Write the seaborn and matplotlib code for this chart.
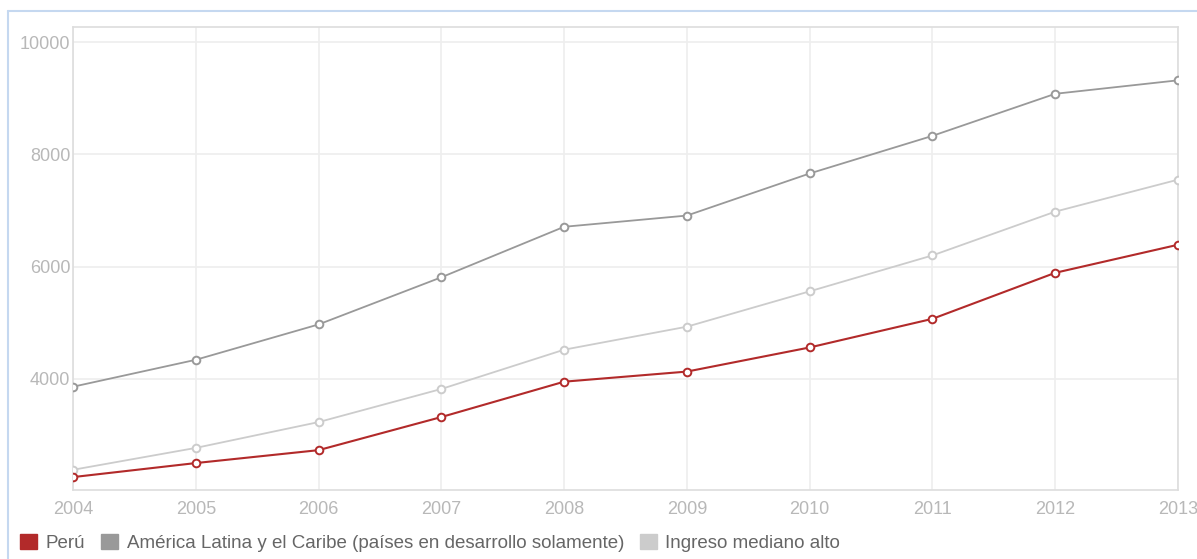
import matplotlib
matplotlib.use("Agg")
import matplotlib.pyplot as plt
from matplotlib.lines import Line2D
from matplotlib.patches import Patch
import pandas as pd
import seaborn as sns

# GDP per capita series, 2004-2013
years = [2004, 2005, 2006, 2007, 2008, 2009, 2010, 2011, 2012, 2013]
peru = [2250, 2500, 2730, 3320, 3950, 4130, 4560, 5070, 5890, 6390]
america_latina = [3860, 4340, 4970, 5810, 6710, 6910, 7660, 8330, 9080, 9320]
ingreso_mediano_alto = [2380, 2770, 3230, 3820, 4520, 4930, 5560, 6200, 6980, 7550]

series_names = [
    "Perú",
    "América Latina y el Caribe (países en desarrollo solamente)",
    "Ingreso mediano alto",
]
series_values = [peru, america_latina, ingreso_mediano_alto]
series_colors = ["#b22a2a", "#999999", "#cccccc"]
y_ticks = [4000, 6000, 8000, 10000]

df = pd.DataFrame(
    [(y, name, v) for name, vals in zip(series_names, series_values)
     for y, v in zip(years, vals)],
    columns=["year", "serie", "value"],
)

sns.set_theme(style="white")
plt.rcParams["font.family"] = ["Liberation Sans", "DejaVu Sans"]

fig = plt.figure(figsize=(11.97, 5.59), dpi=100)
ax = fig.add_axes([73 / 1197, 1 - 490 / 559, (1178 - 73) / 1197, (490 - 27) / 559])

palette = dict(zip(series_names, series_colors))
widths = {series_names[0]: 1.5, series_names[1]: 1.3, series_names[2]: 1.3}
for name in series_names[::-1]:
    sns.lineplot(
        data=df[df["serie"] == name], x="year", y="value",
        color=palette[name], linewidth=widths[name],
        marker="o", markersize=5.5, markerfacecolor="white",
        markeredgecolor=palette[name], markeredgewidth=1.4,
        ax=ax, legend=False, zorder=3,
    )

ax.set_xlim(years[0], years[-1])
ax.set_ylim(2020, 10270)
ax.set_xticks(years)
ax.set_xticklabels([str(y) for y in years])
ax.set_yticks(y_ticks)
ax.set_yticklabels([str(t) for t in y_ticks])
ax.set_xlabel("")
ax.set_ylabel("")

ax.grid(True, color="#eeeeee", linewidth=1.2)
ax.set_axisbelow(True)
for sp in ax.spines.values():
    sp.set_color("#dddddd")
    sp.set_linewidth(1.2)
ax.tick_params(axis="both", length=0, colors="#b8b8b8", labelsize=13)
ax.tick_params(axis="x", pad=8)
ax.tick_params(axis="y", pad=2)

# Legend along the bottom edge
handles = [Patch(facecolor=c, edgecolor=c) for c in series_colors]
leg = fig.legend(
    handles, series_names, loc="lower left", bbox_to_anchor=(0.003, -0.018),
    ncol=3, frameon=False, fontsize=13.5, handlelength=0.9, handleheight=0.9,
    handletextpad=0.45, columnspacing=0.85, labelcolor="#666666",
)

# Light blue frame around the chart area
fig.add_artist(Line2D([8 / 1197, 8 / 1197], [0, 1 - 11 / 559],
                      transform=fig.transFigure, color="#c5d8f0", linewidth=1.5))
fig.add_artist(Line2D([8 / 1197, 1], [1 - 11 / 559, 1 - 11 / 559],
                      transform=fig.transFigure, color="#c5d8f0", linewidth=1.5))

fig.savefig("out.png", dpi=100, facecolor="white")
